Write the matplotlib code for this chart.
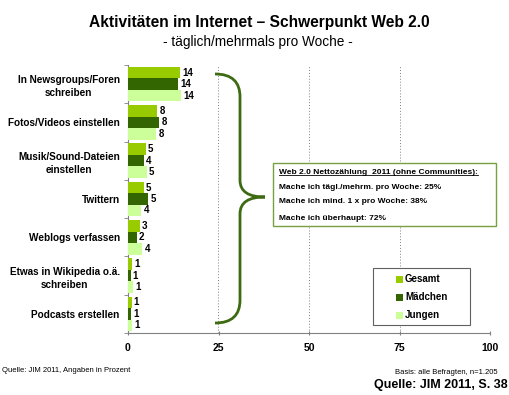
import matplotlib
matplotlib.use("Agg")
import matplotlib.pyplot as plt
from matplotlib.path import Path
from matplotlib.patches import PathPatch, Rectangle
from matplotlib.lines import Line2D
import numpy as np

plt.rcParams['font.family'] = ['Liberation Sans', 'DejaVu Sans']

categories = ["In Newsgroups/Foren\nschreiben", "Fotos/Videos einstellen",
              "Musik/Sound-Dateien\neinstellen", "Twittern", "Weblogs verfassen",
              "Etwas in Wikipedia o.ä.\nschreiben", "Podcasts erstellen"]
series_names = ["Gesamt", "Mädchen", "Jungen"]
gesamt = [14.3, 8.1, 4.9, 4.4, 3.3, 1.1, 1.0]
maedchen = [13.8, 8.6, 4.3, 5.6, 2.4, 0.7, 0.9]
jungen = [14.6, 7.8, 5.2, 3.7, 4.0, 1.4, 1.1]
label_gesamt = [14, 8, 5, 5, 3, 1, 1]
label_maedchen = [14, 8, 4, 5, 2, 1, 1]
label_jungen = [14, 8, 5, 4, 4, 1, 1]
xticks = [0, 25, 50, 75, 100]
box_lines = ["Web 2.0 Nettozählung  2011 (ohne Communities):",
             "Mache ich tägl./mehrm. pro Woche: 25%",
             "Mache ich mind. 1 x pro Woche: 38%",
             "Mache ich überhaupt: 72%"]

colors = ["#99CC00", "#336600", "#CCFF99"]

W, H = 510, 395
fig = plt.figure(figsize=(W/100, H/100), dpi=100)

def fx(px):
    return px / W

def fy(py):
    return 1 - py / H

ax = fig.add_axes([fx(128), fy(333), fx(490) - fx(128), fy(65) - fy(333)])

y = np.arange(len(categories))
h = 0.3
offs = [-0.3, 0.0, 0.3]
vals = [gesamt, maedchen, jungen]
labs = [label_gesamt, label_maedchen, label_jungen]
for s in range(3):
    ax.barh(y + offs[s], vals[s], height=h, color=colors[s], label=series_names[s], zorder=3)
    for i in range(len(categories)):
        ax.text(vals[s][i] + 0.6, y[i] + offs[s], str(labs[s][i]), va='center', ha='left',
                fontsize=7, fontweight='bold', zorder=4)

ax.set_xlim(0, 100)
ax.set_ylim(len(categories) - 0.5, -0.5)
ax.set_xticks(xticks)
ax.set_xticklabels([str(t) for t in xticks], fontsize=7.5, fontweight='bold')
ax.set_yticks(y)
ax.set_yticklabels(categories, fontsize=7.2, fontweight='bold')
ax.set_yticks(np.arange(len(categories) + 1) - 0.5, minor=True)
ax.tick_params(axis='y', which='major', length=0, pad=6)
ax.tick_params(axis='y', which='minor', length=3, direction='out', color='#808080')
ax.tick_params(axis='x', which='major', length=3, direction='inout', color='#808080', pad=6)
for t in ax.get_yticklabels():
    t.set_multialignment('center')
    t.set_linespacing(1.4)
for sp in ['top', 'right']:
    ax.spines[sp].set_visible(False)
for sp in ['left', 'bottom']:
    ax.spines[sp].set_color('#808080')
    ax.spines[sp].set_linewidth(0.8)
for xv in xticks[1:]:
    ax.axvline(xv, color='#808080', linestyle=(0, (1, 2)), linewidth=0.7, zorder=1)

# Title
fig.text(fx(259), fy(22), "Aktivitäten im Internet – Schwerpunkt Web 2.0", ha='center', va='center',
         fontsize=11.2, fontweight='bold')
fig.text(fx(258), fy(42), "- täglich/mehrmals pro Woche -", ha='center', va='center', fontsize=9.8)

# Brace
def P(px, py):
    return (fx(px), fy(py))
verts = [P(215, 74), P(232, 74), P(240, 82), P(240, 97),
         P(240, 180), P(240, 192), P(249, 197), P(265, 197),
         P(249, 197), P(240, 202), P(240, 214),
         P(240, 300), P(240, 315), P(232, 323), P(215, 323)]
codes = [Path.MOVETO, Path.CURVE4, Path.CURVE4, Path.CURVE4,
         Path.LINETO, Path.CURVE4, Path.CURVE4, Path.CURVE4,
         Path.CURVE4, Path.CURVE4, Path.CURVE4,
         Path.LINETO, Path.CURVE4, Path.CURVE4, Path.CURVE4]
fig.patches.append(PathPatch(Path(verts, codes), transform=fig.transFigure, fill=False,
                             edgecolor='#3D6B12', linewidth=2.0, zorder=5))

# Info box
fig.patches.append(Rectangle((fx(273), fy(226)), fx(496) - fx(273), fy(163) - fy(226),
                             transform=fig.transFigure, facecolor='white', edgecolor='#77A040',
                             linewidth=1.0, zorder=5))
box_ys = [172.5, 187, 201.5, 218]
texts = []
for ln, yy in zip(box_lines, box_ys):
    t = fig.text(fx(279), fy(yy), ln, ha='left', va='center', fontsize=6, fontweight='bold', zorder=6)
    texts.append(t)

# Legend box
fig.patches.append(Rectangle((fx(373), fy(325)), fx(470) - fx(373), fy(268) - fy(325),
                             transform=fig.transFigure, facecolor='white', edgecolor='#606060',
                             linewidth=0.8, zorder=5))
leg_ys = [279, 297, 315]
for c, name, yy in zip(colors, series_names, leg_ys):
    fig.patches.append(Rectangle((fx(396), fy(yy + 3.5)), fx(7), fx(7) * W / H,
                                 transform=fig.transFigure, facecolor=c, edgecolor='none', zorder=6))
    fig.text(fx(405), fy(yy), name, ha='left', va='center', fontsize=7, fontweight='bold', zorder=6)

# Footer
fig.text(fx(2), fy(370), "Quelle: JIM 2011, Angaben in Prozent", ha='left', va='center', fontsize=5.5)
fig.text(fx(498), fy(372), "Basis: alle Befragten, n=1.205", ha='right', va='center', fontsize=5.5)
fig.text(fx(508), fy(385), "Quelle: JIM 2011, S. 38", ha='right', va='center', fontsize=9, fontweight='bold')

# underline first box line
fig.canvas.draw()
r = fig.canvas.get_renderer()
bb = texts[0].get_window_extent(r).transformed(fig.transFigure.inverted())
fig.lines.append(Line2D([bb.x0, bb.x1], [bb.y0 + 0.002, bb.y0 + 0.002], transform=fig.transFigure,
                        color='black', linewidth=0.6, zorder=7))

fig.savefig("out.png", dpi=100)
